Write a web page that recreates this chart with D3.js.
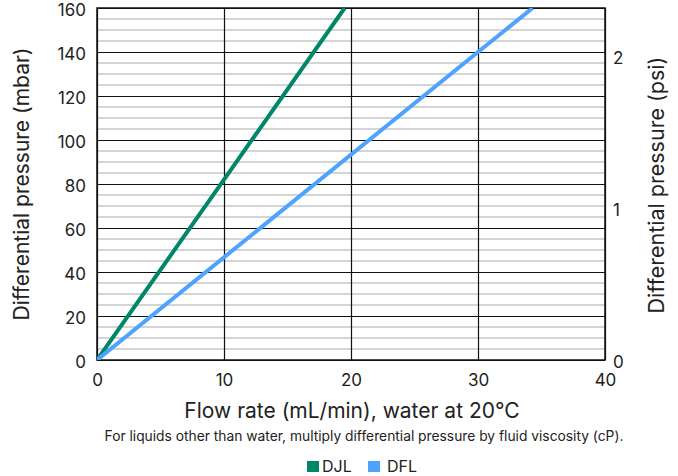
<!DOCTYPE html>
<html>
<head>
<meta charset="utf-8">
<script src="https://cdn.jsdelivr.net/npm/d3@7"></script>
<style>
  body { margin: 0; background: #fff; }
  text { font-family: Inter, "Noto Sans", sans-serif; fill: #222; }
</style>
</head>
<body>
<div id="container"></div>
<script>
/* CONSTANTS AND GLOBALS */
const width = 678,
  height = 476,
  margin = { top: 8, bottom: 116, left: 97, right: 73 }

const MBAR_PER_PSI = 68.9476

/* DATA */
const xTicks = [0, 10, 20, 30, 40]
const yTicks = [0, 20, 40, 60, 80, 100, 120, 140, 160]
const psiTicks = [0, 1, 2]
const djlFlow = [0, 10, 19.5]
const djlPressure = [0, 82, 160]
const dflFlow = [0, 30, 34.3]
const dflPressure = [0, 140, 160]

const series = [
  { name: 'DJL', color: '#00876a', flow: djlFlow, pressure: djlPressure },
  { name: 'DFL', color: '#4da3ff', flow: dflFlow, pressure: dflPressure }
]

/* SVG */
const svg = d3.select('#container')
  .append('svg')
  .attr('width', width)
  .attr('height', height)

const xScale = d3.scaleLinear()
  .domain([0, 40])
  .range([margin.left, width - margin.right])

const yScale = d3.scaleLinear()
  .domain([0, 160])
  .range([height - margin.bottom, margin.top])

const psiScale = d3.scaleLinear()
  .domain([0, 160 / MBAR_PER_PSI])
  .range([height - margin.bottom, margin.top])

// minor grid (every 5 mbar)
svg.append('g')
  .selectAll('line')
  .data(d3.range(5, 160, 5).filter(v => v % 20 !== 0))
  .join('line')
  .attr('x1', margin.left)
  .attr('x2', width - margin.right)
  .attr('y1', d => yScale(d))
  .attr('y2', d => yScale(d))
  .attr('stroke', '#aaa')
  .attr('stroke-width', 1)

// major grid
svg.append('g')
  .selectAll('line')
  .data(yTicks)
  .join('line')
  .attr('x1', margin.left)
  .attr('x2', width - margin.right)
  .attr('y1', d => Math.round(yScale(d)) + 0.5)
  .attr('y2', d => Math.round(yScale(d)) + 0.5)
  .attr('stroke', '#111')
  .attr('stroke-width', 1.2)

svg.append('g')
  .selectAll('line')
  .data(xTicks)
  .join('line')
  .attr('x1', d => Math.round(xScale(d)) + 0.5)
  .attr('x2', d => Math.round(xScale(d)) + 0.5)
  .attr('y1', margin.top)
  .attr('y2', height - margin.bottom)
  .attr('stroke', '#111')
  .attr('stroke-width', 1.2)

// frame
svg.append('rect')
  .attr('x', margin.left)
  .attr('y', margin.top)
  .attr('width', width - margin.left - margin.right)
  .attr('height', height - margin.top - margin.bottom)
  .attr('fill', 'none')
  .attr('stroke', '#111')
  .attr('stroke-width', 1.5)

// lines
svg.append('clipPath').attr('id', 'plotclip')
  .append('rect')
  .attr('x', margin.left)
  .attr('y', margin.top)
  .attr('width', width - margin.left - margin.right)
  .attr('height', height - margin.top - margin.bottom)

const line = d3.line()
  .x(d => xScale(d[0]))
  .y(d => yScale(d[1]))

svg.append('g')
  .attr('clip-path', 'url(#plotclip)')
  .selectAll('path')
  .data(series)
  .join('path')
  .attr('d', d => line(d.flow.map((f, i) => [f, d.pressure[i]])))
  .attr('fill', 'none')
  .attr('stroke', d => d.color)
  .attr('stroke-width', 4)

// axes
const xAxis = d3.axisBottom(xScale).tickValues(xTicks).tickSize(0).tickPadding(14)
const yAxis = d3.axisLeft(yScale).tickValues(yTicks).tickSize(0).tickPadding(11)
const psiAxis = d3.axisRight(psiScale).tickValues(psiTicks).tickFormat(d3.format('d')).tickSize(0).tickPadding(8)

const gx = svg.append('g')
  .attr('transform', `translate(0, ${height - margin.bottom})`)
  .call(xAxis)
const gy = svg.append('g')
  .attr('transform', `translate(${margin.left}, 0)`)
  .call(yAxis)
const gp = svg.append('g')
  .attr('transform', `translate(${width - margin.right}, 0)`)
  .call(psiAxis)

;[gx, gy, gp].forEach(g => {
  g.select('.domain').remove()
  g.selectAll('text')
    .style('font-family', 'Inter, "Noto Sans", sans-serif')
    .style('font-size', '17px')
    .attr('fill', '#222')
})
gy.selectAll('text').attr('dy', '0.42em')
gp.selectAll('text').attr('dy', '0.42em')

// axis titles
svg.append('text')
  .attr('transform', 'translate(29, 184) rotate(-90)')
  .style('text-anchor', 'middle')
  .style('font-size', '21px')
  .text('Differential pressure (mbar)')

svg.append('text')
  .attr('transform', 'translate(664, 185) rotate(-90)')
  .style('text-anchor', 'middle')
  .style('font-size', '21.5px')
  .text('Differential pressure (psi)')

svg.append('text')
  .attr('x', 352)
  .attr('y', 418)
  .style('text-anchor', 'middle')
  .style('font-size', '21px')
  .text('Flow rate (mL/min), water at 20°C')

svg.append('text')
  .attr('x', 364)
  .attr('y', 441)
  .style('text-anchor', 'middle')
  .style('font-size', '13.8px')
  .text('For liquids other than water, multiply differential pressure by fluid viscosity (cP).')

// legend
const legendX = [307, 368]
const legendTextX = [322, 387]
const legend = svg.append('g')
legend.selectAll('rect')
  .data(series)
  .join('rect')
  .attr('x', (d, i) => legendX[i])
  .attr('y', 461)
  .attr('width', 12)
  .attr('height', 11)
  .attr('fill', d => d.color)
legend.selectAll('text')
  .data(series)
  .join('text')
  .attr('x', (d, i) => legendTextX[i])
  .attr('y', 472)
  .style('font-size', '16px')
  .text(d => d.name)
</script>
</body>
</html>
